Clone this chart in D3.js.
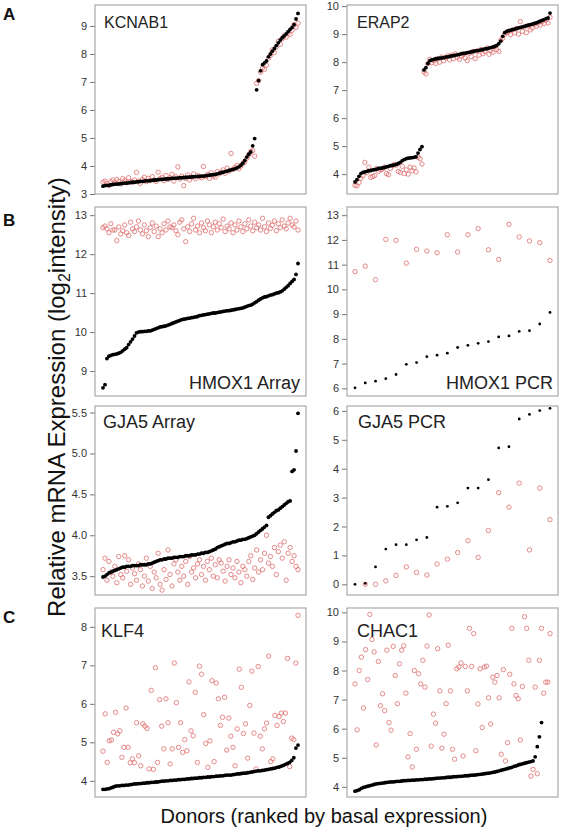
<!DOCTYPE html>
<html><head><meta charset="utf-8">
<script src="https://cdn.jsdelivr.net/npm/d3@7"></script>
<style>
html,body{margin:0;padding:0;background:#fff;}
svg{display:block;font-family:"Liberation Sans",Arial,sans-serif;}
</style></head>
<body><svg id="chart" width="562" height="829"></svg>
<script>
// ---------------- DATA ----------------
const kcnab1Basal = [3.28,3.30,3.31,3.31,3.33,3.34,3.35,3.35,3.36,3.37,
 3.38,3.39,3.39,3.40,3.41,3.42,3.42,3.43,3.44,3.45,
 3.45,3.46,3.47,3.47,3.48,3.49,3.50,3.50,3.51,3.52,
 3.52,3.53,3.54,3.54,3.55,3.56,3.56,3.57,3.57,3.58,
 3.58,3.59,3.59,3.60,3.60,3.61,3.62,3.62,3.63,3.63,
 3.64,3.64,3.65,3.66,3.67,3.68,3.69,3.70,3.72,3.74,
 3.76,3.78,3.80,3.82,3.84,3.86,3.88,3.90,3.93,3.97,
 4.03,4.10,4.20,4.32,4.42,4.50,4.72,4.98,
 6.72,7.05,7.40,7.62,7.68,7.75,7.90,8.00,8.10,8.20,8.30,8.40,8.50,8.58,8.65,8.72,8.80,8.88,8.95,9.05,9.25,9.45];
const kcnab1Treated = [3.42,3.46,3.38,3.30,3.44,3.50,3.40,3.52,3.45,3.36,
 3.55,3.48,3.40,3.58,3.45,3.42,3.50,3.77,3.46,3.38,
 3.52,3.60,3.44,3.56,3.48,3.62,3.50,3.45,3.78,3.55,
 3.60,3.48,3.66,3.52,3.58,3.70,3.46,3.62,3.97,3.54,
 3.64,3.30,3.56,3.68,3.50,3.60,3.72,3.55,3.66,3.62,
 3.58,3.98,3.62,3.70,3.56,3.76,3.64,3.60,3.80,3.72,
 3.78,3.86,3.74,3.92,3.82,4.45,3.88,3.95,4.02,3.90,
 4.00,4.10,4.15,4.28,4.40,4.52,4.55,4.35,
 6.95,7.05,7.35,7.50,7.45,7.60,7.85,7.95,8.15,8.05,8.25,8.45,8.35,8.55,8.65,8.60,8.75,8.70,8.85,9.05,8.95,9.10];
const kcnab1Ticks = [3,4,5,6,7,8,9];

const erap2Basal = [3.72,3.80,3.92,4.02,4.06,4.08,4.10,4.12,4.13,4.15,
 4.16,4.18,4.20,4.21,4.22,4.24,4.26,4.28,4.30,4.31,
 4.33,4.35,4.38,4.42,4.48,4.52,4.55,4.57,4.58,4.59,
 4.60,4.62,4.75,4.88,4.98,
 7.72,7.80,7.95,8.05,8.08,8.10,8.12,8.13,8.14,8.15,
 8.16,8.18,8.19,8.20,8.22,8.23,8.25,8.26,8.28,8.30,
 8.31,8.32,8.34,8.35,8.37,8.38,8.40,8.41,8.42,8.44,
 8.45,8.47,8.48,8.50,8.52,8.54,8.56,8.60,8.66,8.75,
 8.92,9.05,9.10,9.12,9.14,9.16,9.18,9.20,9.22,9.24,
 9.26,9.28,9.30,9.32,9.34,9.36,9.38,9.40,9.43,9.46,
 9.49,9.52,9.55,9.58,9.75];
const erap2Treated = [3.60,3.58,3.70,3.85,3.95,4.42,4.05,4.25,3.88,3.92,
 3.95,4.20,4.10,4.15,4.18,4.25,4.02,3.98,4.20,4.30,
 4.35,4.32,4.10,4.06,4.28,4.02,4.15,4.00,4.25,4.12,
 4.22,4.08,4.60,4.55,4.36,
 7.65,7.58,7.95,8.10,7.98,8.05,7.95,8.12,8.00,8.18,
 8.05,8.15,8.22,8.08,8.25,8.12,8.30,8.18,8.10,8.22,
 8.28,8.15,8.05,8.32,8.20,8.38,8.12,8.40,8.25,8.45,
 8.30,8.38,8.50,8.28,8.42,8.35,8.55,8.45,8.38,8.78,
 8.85,9.00,9.05,9.10,8.98,9.15,9.05,9.20,9.00,9.45,
 9.10,9.25,9.05,9.30,9.15,9.22,9.35,9.28,9.40,9.32,
 9.45,9.38,9.50,9.40,9.60];
const erap2Ticks = [4,5,6,7,8,9,10];

const hmox1ArrayBasal = [8.57,8.65,9.32,9.38,9.40,9.42,9.43,9.44,9.46,9.48,
 9.52,9.56,9.60,9.68,9.75,9.82,9.90,9.98,10.00,10.01,
 10.01,10.02,10.02,10.03,10.03,10.05,10.07,10.09,10.11,10.13,
 10.14,10.15,10.16,10.18,10.20,10.22,10.24,10.26,10.28,10.30,
 10.32,10.33,10.34,10.35,10.36,10.37,10.38,10.39,10.40,10.42,
 10.43,10.44,10.45,10.46,10.47,10.48,10.49,10.49,10.50,10.51,
 10.52,10.53,10.54,10.55,10.55,10.56,10.57,10.58,10.59,10.60,
 10.61,10.62,10.64,10.66,10.68,10.69,10.72,10.75,10.78,10.82,
 10.85,10.88,10.90,10.91,10.93,10.95,10.96,10.98,11.00,11.01,
 11.03,11.06,11.10,11.15,11.19,11.25,11.30,11.35,11.48,11.76];
const hmox1ArrayTreated = [12.68,12.72,12.65,12.55,12.78,12.62,12.62,12.35,12.70,12.52,
 12.60,12.75,12.55,12.48,12.82,12.65,12.58,12.70,12.85,12.62,
 12.52,12.75,12.60,12.45,12.68,12.80,12.58,12.72,12.45,12.65,
 12.55,12.78,12.62,12.85,12.70,12.68,12.75,12.60,12.50,12.82,
 12.88,12.65,12.32,12.70,12.58,12.78,12.92,12.62,12.72,12.55,
 12.80,12.68,12.60,12.85,12.75,12.55,12.70,12.82,12.62,12.78,
 12.68,12.90,12.58,12.72,12.65,12.80,12.55,12.75,12.62,12.85,
 12.70,12.58,12.78,12.65,12.88,12.72,12.60,12.82,12.68,12.75,
 12.62,12.92,12.70,12.58,12.80,12.66,12.74,12.85,12.60,12.78,
 12.68,12.88,12.72,12.65,12.80,12.92,12.75,12.70,12.85,12.62];
const hmox1ArrayTicks = [9,10,11,12,13];

const hmox1PcrBasal = [6.02,6.22,6.29,6.39,6.56,6.97,7.04,7.28,7.34,7.42,7.65,7.74,7.82,7.89,8.08,8.12,8.30,8.33,8.60,9.07];
const hmox1PcrTreated = [10.72,10.94,10.39,12.02,11.98,11.06,11.62,11.55,11.48,12.21,11.51,12.21,12.46,11.60,11.21,12.63,12.12,11.96,11.89,11.17];
const hmox1PcrTicks = [6,7,8,9,10,11,12,13];

const gja5ArrayBasal = [3.49,3.50,3.52,3.54,3.55,3.56,3.57,3.58,3.59,3.60,
 3.61,3.61,3.62,3.62,3.62,3.63,3.63,3.63,3.63,3.64,
 3.64,3.64,3.64,3.65,3.65,3.66,3.67,3.68,3.69,3.70,
 3.70,3.71,3.71,3.72,3.72,3.72,3.73,3.73,3.73,3.74,
 3.74,3.74,3.75,3.75,3.75,3.76,3.76,3.76,3.77,3.77,
 3.78,3.78,3.79,3.79,3.80,3.81,3.82,3.83,3.85,3.86,
 3.87,3.88,3.89,3.90,3.90,3.91,3.92,3.92,3.93,3.94,
 3.94,3.95,3.95,3.96,3.97,3.98,3.99,4.00,4.02,4.04,
 4.06,4.08,4.10,4.12,4.22,4.24,4.26,4.28,4.30,4.31,
 4.33,4.35,4.37,4.39,4.41,4.42,4.78,4.80,5.03,5.49];
const gja5ArrayTreated = [3.58,3.72,3.45,3.68,3.55,3.50,3.62,3.42,3.74,3.52,
 3.48,3.75,3.56,3.70,3.40,3.60,3.53,3.45,3.65,3.58,
 3.38,3.50,3.72,3.44,3.62,3.35,3.55,3.48,3.78,3.40,
 3.33,3.58,3.46,3.82,3.52,3.38,3.65,3.70,3.55,3.45,
 3.62,3.50,3.68,3.40,3.74,3.55,3.60,3.48,3.65,3.70,
 3.52,3.62,3.45,3.68,3.58,3.72,3.50,3.64,3.48,3.70,
 3.66,3.56,3.44,3.62,3.70,3.52,3.60,3.48,3.68,3.55,
 3.42,3.62,3.58,3.50,3.68,3.75,3.46,3.60,3.82,3.55,
 3.70,3.58,3.78,4.00,3.66,3.74,3.62,3.85,3.52,3.80,
 3.88,3.72,3.92,3.45,3.78,3.85,3.68,3.75,3.62,3.58];
const gja5ArrayTicks = [3.5,4.0,4.5,5.0,5.5];

const gja5PcrBasal = [0.00,0.03,0.60,1.22,1.37,1.37,1.54,1.62,2.67,2.70,2.82,3.33,3.33,3.62,4.72,4.76,5.72,5.88,6.01,6.09];
const gja5PcrTreated = [null,0.00,0.00,0.12,0.31,0.60,0.41,0.32,0.70,0.87,1.10,1.51,0.93,1.86,3.17,2.67,3.50,1.19,3.33,2.24];
const gja5PcrTicks = [0,1,2,3,4,5,6];

const klf4Basal = [3.78,3.78,3.79,3.80,3.82,3.84,3.86,3.87,3.87,3.88,
 3.88,3.89,3.89,3.90,3.91,3.92,3.92,3.93,3.93,3.94,
 3.94,3.95,3.95,3.96,3.96,3.97,3.97,3.98,3.99,3.99,
 4.00,4.00,4.01,4.01,4.02,4.02,4.03,4.03,4.04,4.04,
 4.05,4.05,4.06,4.06,4.07,4.07,4.08,4.08,4.09,4.09,
 4.10,4.10,4.11,4.11,4.12,4.12,4.13,4.13,4.14,4.15,
 4.15,4.15,4.16,4.17,4.18,4.18,4.19,4.20,4.20,4.21,
 4.22,4.23,4.24,4.25,4.26,4.26,4.27,4.28,4.29,4.30,
 4.31,4.32,4.33,4.35,4.36,4.38,4.40,4.43,4.45,4.48,
 4.53,4.60,4.85,4.93];
const klf4Treated = [4.77,5.74,4.48,5.04,5.06,5.26,5.78,5.22,5.30,4.61,
 4.87,5.89,4.87,4.47,4.57,4.47,5.51,4.65,4.39,5.48,
 5.42,5.36,4.31,6.35,4.30,6.94,4.48,6.11,5.42,4.83,
 6.13,5.51,4.44,4.83,7.06,6.03,4.87,5.51,4.74,5.07,
 4.78,6.57,5.30,5.17,6.30,4.48,6.98,6.77,
 5.72,4.97,4.35,5.04,6.60,4.50,6.54,6.13,5.44,5.65,
 6.17,4.80,5.63,5.16,4.87,4.39,5.35,6.90,6.43,5.23,
 5.48,4.59,5.96,6.85,5.24,4.31,6.97,5.16,4.83,5.35,
 5.50,7.24,4.50,4.57,5.70,5.44,5.67,5.76,5.54,5.76,
 7.18,4.37,5.11,5.07,7.06,8.30];
const klf4Ticks = [4,5,6,7,8];

const chac1Basal = [3.85,3.87,3.90,3.95,3.98,4.00,4.02,4.04,4.06,4.08,
 4.10,4.11,4.12,4.13,4.14,4.15,4.16,4.17,4.17,4.18,
 4.19,4.19,4.20,4.21,4.21,4.22,4.22,4.23,4.23,4.24,
 4.24,4.25,4.25,4.26,4.26,4.27,4.27,4.28,4.29,4.30,
 4.30,4.31,4.31,4.32,4.33,4.33,4.34,4.35,4.35,4.36,
 4.36,4.37,4.38,4.38,4.39,4.40,4.40,4.41,4.42,4.43,
 4.44,4.45,4.46,4.47,4.48,4.50,4.51,4.53,4.55,4.57,
 4.59,4.61,4.63,4.65,4.67,4.70,4.72,4.75,4.77,4.79,
 4.81,4.83,4.85,4.87,4.89,5.03,5.38,5.72,6.21];
const chac1Treated = [7.54,5.96,8.00,8.46,6.71,8.72,7.69,9.93,9.07,8.64,
 5.44,8.31,6.79,7.20,6.62,8.70,6.21,5.95,8.83,7.83,
 6.86,8.23,8.70,8.85,7.22,5.03,5.83,4.68,8.00,5.29,
 7.89,7.54,8.35,7.43,8.84,9.91,5.40,6.50,6.19,8.75,
 7.30,5.33,5.81,6.86,8.87,7.30,5.29,4.95,8.06,8.12,
 8.26,5.06,8.14,7.30,9.45,8.14,9.27,5.24,6.85,8.06,
 6.04,8.12,8.15,7.06,6.16,7.77,7.60,7.83,7.06,5.12,
 8.03,4.89,5.52,7.87,9.45,7.54,7.14,7.03,5.61,7.45,
 9.85,9.45,8.35,4.37,4.60,7.43,4.45,8.35,9.45,7.22,
 7.60,7.60,9.27];
const chac1Ticks = [4,5,6,7,8,9,10];

const panelNames = ["KCNAB1","ERAP2","HMOX1 Array","HMOX1 PCR","GJA5 Array","GJA5 PCR","KLF4","CHAC1"];
const sectionLetters = ["A","B","C"];
const yTitle = "Relative mRNA Expression (log";
const yTitleSub = "2";
const yTitleEnd = "intensity)";
const xTitle = "Donors (ranked by basal expression)";

// ---------------- LAYOUT ----------------
const colX = [95, 347], panelW = 211;
const rowY = [5, 207, 406, 608], panelH = 189;
const inset = 8;
const red = "#e06c6c";

const panels = [
 {name:panelNames[0], basal:kcnab1Basal, treated:kcnab1Treated, ticks:kcnab1Ticks, dom:[3.0,9.75], c:0, r:0, lab:"tl", fs:16, dx:9, by:23, pcr:false},
 {name:panelNames[1], basal:erap2Basal, treated:erap2Treated, ticks:erap2Ticks, dom:[3.29,10.04], c:1, r:0, lab:"tl", fs:16, dx:10, by:23, pcr:false},
 {name:panelNames[2], basal:hmox1ArrayBasal, treated:hmox1ArrayTreated, ticks:hmox1ArrayTicks, dom:[8.36,13.21], c:0, r:1, lab:"br", fs:18, dx:6, by:7, pcr:false},
 {name:panelNames[3], basal:hmox1PcrBasal, treated:hmox1PcrTreated, ticks:hmox1PcrTicks, dom:[5.69,13.33], c:1, r:1, lab:"br", fs:18, dx:5, by:7, pcr:true},
 {name:panelNames[4], basal:gja5ArrayBasal, treated:gja5ArrayTreated, ticks:gja5ArrayTicks, dom:[3.27,5.58], c:0, r:2, lab:"tl", fs:18, dx:8, by:22, pcr:false, fmt:".1f"},
 {name:panelNames[5], basal:gja5PcrBasal, treated:gja5PcrTreated, ticks:gja5PcrTicks, dom:[-0.37,6.17], c:1, r:2, lab:"tl", fs:18, dx:11, by:22, pcr:true},
 {name:panelNames[6], basal:klf4Basal, treated:klf4Treated, ticks:klf4Ticks, dom:[3.58,8.49], c:0, r:3, lab:"tl", fs:18, dx:6, by:29, pcr:false},
 {name:panelNames[7], basal:chac1Basal, treated:chac1Treated, ticks:chac1Ticks, dom:[3.65,10.15], c:1, r:3, lab:"tl", fs:18, dx:10, by:29, pcr:false}
];

const svg = d3.select("#chart");
svg.append("rect").attr("width",562).attr("height",829).attr("fill","#fff");

panels.forEach(p => {
  const x0 = colX[p.c], y0 = rowY[p.r];
  const n = Math.max(p.basal.length, p.treated.length);
  const xs = d3.scaleLinear().domain([0, n-1]).range([x0+inset, x0+panelW-inset]);
  const ys = d3.scaleLinear().domain(p.dom).range([y0+panelH, y0]);
  const g = svg.append("g");

  // axis
  const ax = d3.axisLeft(ys).tickValues(p.ticks).tickSize(5).tickPadding(3)
    .tickFormat(p.fmt ? d3.format(p.fmt) : d3.format("d"));
  const ag = g.append("g").attr("transform",`translate(${x0},0)`).call(ax);
  ag.select(".domain").remove();
  ag.selectAll(".tick line").attr("stroke","#777");
  ag.selectAll(".tick text").attr("fill","#333").style("font-size","11px")
    .style("font-family","'Liberation Sans',Arial,sans-serif");

  // treated (red open circles)
  g.append("g").selectAll("circle")
    .data(p.treated.map((v,i)=>({v,i})).filter(d=>d.v!==null))
    .join("circle")
    .attr("cx", d=>xs(d.i)).attr("cy", d=>ys(d.v))
    .attr("r", p.pcr ? 2.2 : 2.2)
    .attr("fill","none").attr("stroke",red).attr("stroke-width",0.8);

  // basal (black dots)
  g.append("g").selectAll("circle")
    .data(p.basal.map((v,i)=>({v,i})))
    .join("circle")
    .attr("cx", d=>xs(d.i)).attr("cy", d=>ys(d.v))
    .attr("r", p.pcr ? 1.4 : 1.9)
    .attr("fill","#000");

  // frame
  g.append("rect").attr("x",x0).attr("y",y0).attr("width",panelW).attr("height",panelH)
    .attr("fill","none").attr("stroke","#999").attr("stroke-width",1);

  // label
  const t = g.append("text").text(p.name).attr("fill","#222").style("font-size",p.fs+"px");
  if (p.lab === "tl") {
    t.attr("x", x0+p.dx).attr("y", y0+p.by).attr("text-anchor","start");
  } else {
    t.attr("x", x0+panelW-p.dx).attr("y", y0+panelH-p.by).attr("text-anchor","end");
  }
});

// section letters
const letterY = [20, 226, 623];
sectionLetters.forEach((L,i)=>{
  svg.append("text").text(L).attr("x",3).attr("y",letterY[i])
    .style("font-size","17px").style("font-weight","bold").attr("fill","#111");
});

// y title
const yt = svg.append("text").attr("transform","translate(65,397) rotate(-90)")
  .attr("text-anchor","middle").style("font-size","24px").attr("fill","#111");
yt.append("tspan").text(yTitle);
yt.append("tspan").text(yTitleSub).style("font-size","16px").attr("dy",5);
yt.append("tspan").text(yTitleEnd).attr("dy",-5);

// x title
svg.append("text").text(xTitle).attr("x",324).attr("y",823).attr("text-anchor","middle")
  .style("font-size","20px").attr("fill","#111");
</script>
</body></html>
